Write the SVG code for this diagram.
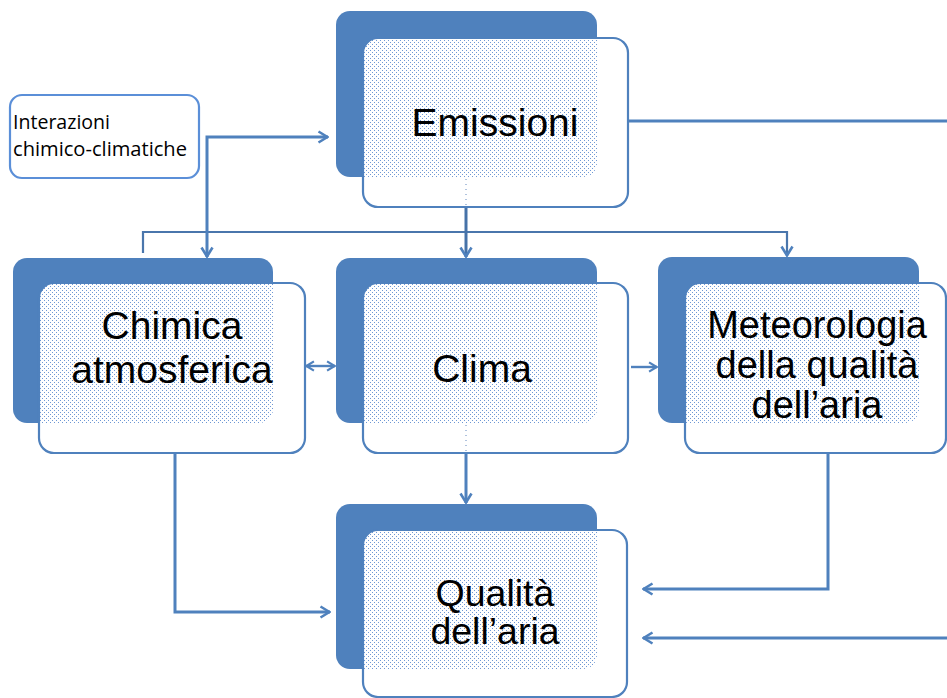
<svg xmlns="http://www.w3.org/2000/svg" width="947" height="698" viewBox="0 0 947 698">
<style>
.back{fill:#4f81bd}
.front{fill:#ffffff}
.edge{fill:none;stroke:#4f81bd;stroke-width:2.2}
.lbl{font-family:"Liberation Sans",Arial,sans-serif;font-size:39px;fill:#000;text-anchor:middle}
.small{font-family:"Open Sans","Liberation Sans",sans-serif;font-size:19.5px;fill:#000}
.con{fill:none;stroke:#4f81bd;stroke-width:3}
.thin{fill:none;stroke:#4a76ac;stroke-width:2.2}
.faint{fill:none;stroke:#7c9cc8;stroke-width:1.2;stroke-dasharray:1 4}
</style>
<defs>
<pattern id="dots" width="4" height="4" patternUnits="userSpaceOnUse">
<rect width="4" height="4" fill="#ffffff"/>
<rect x="0" y="0" width="1" height="1" fill="#6f98d4"/>
<rect x="2" y="2" width="1" height="1" fill="#6f98d4"/>
</pattern>
<marker id="ah" viewBox="0 0 12 14" markerWidth="12" markerHeight="14" refX="11" refY="7" orient="auto-start-reverse" markerUnits="userSpaceOnUse">
<path d="M1.5,1.5 L10.5,7 L1.5,12.5" fill="none" stroke="#4f81bd" stroke-width="2.6"/>
</marker>
<marker id="ahs" viewBox="0 0 12 14" markerWidth="10" markerHeight="12" refX="11" refY="7" orient="auto-start-reverse" markerUnits="userSpaceOnUse">
<path d="M1.5,1.5 L10.5,7 L1.5,12.5" fill="none" stroke="#4f81bd" stroke-width="2.6"/>
</marker>
<clipPath id="cE"><rect x="336" y="11" width="261" height="166" rx="14"/></clipPath>
<clipPath id="cCh"><rect x="13" y="258" width="260" height="165" rx="14"/></clipPath>
<clipPath id="cCl"><rect x="336" y="258" width="261" height="165" rx="14"/></clipPath>
<clipPath id="cM"><rect x="658" y="257" width="261" height="166" rx="14"/></clipPath>
<clipPath id="cQ"><rect x="336" y="504" width="261" height="165" rx="14"/></clipPath>
</defs>

<g id="connectors">
<path class="con" d="M628,121 H947"/>
<path class="con" d="M947,638 H643" marker-end="url(#ah)"/>
<path class="con" d="M828,453 V589 H643" marker-end="url(#ah)"/>
<path class="thin" d="M143,253 V232 H787 V256" marker-end="url(#ah)"/>
<path class="con" d="M207,257 V137 H328" marker-start="url(#ah)" marker-end="url(#ah)"/>
<path class="con" d="M466,207 V257" marker-end="url(#ah)" style="stroke:#4672a8"/>
<path class="con" d="M306,366 H335" marker-start="url(#ahs)" marker-end="url(#ahs)" style="stroke-width:2.4"/>
<path class="con" d="M631,367 H657" marker-end="url(#ahs)" style="stroke-width:2.4"/>
<path class="con" d="M466,453 V503" marker-end="url(#ah)"/>
<path class="con" d="M175,453 V612 H330" marker-end="url(#ah)"/>
</g>

<g id="interazioni">
<rect x="10" y="95" width="189" height="83" rx="12" fill="#ffffff" stroke="#5b8fd8" stroke-width="2.2"/>
<text class="small" x="13" y="129" textLength="97" lengthAdjust="spacingAndGlyphs">Interazioni</text>
<text class="small" x="13" y="156" textLength="174" lengthAdjust="spacingAndGlyphs">chimico-climatiche</text>
</g>

<g id="emissioni">
<rect class="back" x="336" y="11" width="261" height="166" rx="14"/>
<rect class="front" x="363" y="38" width="265" height="169" rx="15"/>
<rect x="363" y="38" width="265" height="169" rx="15" fill="url(#dots)" clip-path="url(#cE)"/>
<rect class="edge" x="363" y="38" width="265" height="169" rx="15"/>
<path class="faint" d="M466,179 V206"/>
<text class="lbl" x="495" y="136">Emissioni</text>
</g>

<g id="chimica">
<rect class="back" x="13" y="258" width="260" height="165" rx="14"/>
<rect class="front" x="39" y="283" width="266" height="170" rx="15"/>
<rect x="39" y="283" width="266" height="170" rx="15" fill="url(#dots)" clip-path="url(#cCh)"/>
<rect class="edge" x="39" y="283" width="266" height="170" rx="15"/>
<text class="lbl" x="172" y="339">Chimica</text>
<text class="lbl" x="172" y="383">atmosferica</text>
</g>

<g id="clima">
<rect class="back" x="336" y="258" width="261" height="165" rx="14"/>
<rect class="front" x="363" y="283" width="265" height="170" rx="15"/>
<rect x="363" y="283" width="265" height="170" rx="15" fill="url(#dots)" clip-path="url(#cCl)"/>
<rect class="edge" x="363" y="283" width="265" height="170" rx="15"/>
<path class="faint" d="M466,425 V452"/>
<text class="lbl" x="482" y="382">Clima</text>
</g>

<g id="meteorologia">
<rect class="back" x="658" y="257" width="261" height="166" rx="14"/>
<rect class="front" x="685" y="283" width="261" height="170" rx="15"/>
<rect x="685" y="283" width="261" height="170" rx="15" fill="url(#dots)" clip-path="url(#cM)"/>
<rect class="edge" x="685" y="283" width="261" height="170" rx="15"/>
<text class="lbl" x="817" y="338" style="font-size:38px">Meteorologia</text>
<text class="lbl" x="817" y="378" style="font-size:38px">della qualità</text>
<text class="lbl" x="817" y="418" style="font-size:38px">dell’aria</text>
</g>

<g id="qualita">
<rect class="back" x="336" y="504" width="261" height="165" rx="14"/>
<rect class="front" x="363" y="530" width="264" height="167" rx="15"/>
<rect x="363" y="530" width="264" height="167" rx="15" fill="url(#dots)" clip-path="url(#cQ)"/>
<rect class="edge" x="363" y="530" width="264" height="167" rx="15"/>
<text class="lbl" x="495" y="606" style="font-size:37.5px">Qualità</text>
<text class="lbl" x="495" y="644" style="font-size:37.5px">dell’aria</text>
</g>
</svg>
